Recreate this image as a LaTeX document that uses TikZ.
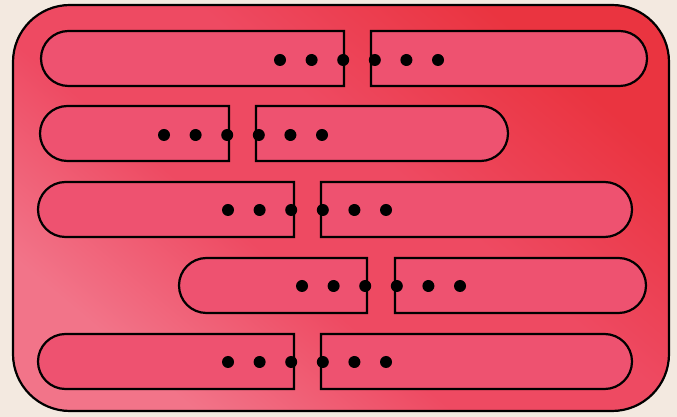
\documentclass[tikz,border=0pt]{standalone}
\definecolor{bgbeige}{HTML}{F3E9E0}
\definecolor{outerdark}{HTML}{EA3440}
\definecolor{outermid}{HTML}{EE4A62}
\definecolor{outerlight}{HTML}{F27489}
\definecolor{pillfill}{HTML}{EE5270}
\pgfdeclarehorizontalshading{panelshade}{100bp}{color(0bp)=(outerlight); color(26bp)=(outerlight); color(42bp)=(outermid); color(56bp)=(outermid); color(74bp)=(outerdark); color(100bp)=(outerdark)}
\begin{document}
\begin{tikzpicture}[x=1pt,y=1pt,line width=2.2pt,
  piece/.style={draw=black,fill=pillfill,line join=miter},
  hole/.style={fill=black}]
\useasboundingbox[fill=bgbeige] (0,0) rectangle (677,417);
% outer rounded panel (y up: Y = 417 - py)
\shade[shading=panelshade,shading angle=50,draw=none,rounded corners=57pt]
  (13,6) rectangle (669,412);
\draw[rounded corners=57pt,line width=2.2pt] (13,6) rectangle (669,412);
% pieces
\newcommand{\lpill}[3]{% x1, x2, center Y
  \draw[piece] (#2,#3+27.5) -- (#1+27.5,#3+27.5)
    arc[start angle=90,end angle=270,radius=27.5] -- (#2,#3-27.5) -- cycle;}
\newcommand{\rpill}[3]{% x1, x2, center Y
  \draw[piece] (#1,#3+27.5) -- (#2-27.5,#3+27.5)
    arc[start angle=90,end angle=-90,radius=27.5] -- (#1,#3-27.5) -- cycle;}
\newcommand{\holes}[2]{% first x, Y
  \foreach \k in {0,...,5} {\fill[hole] (#1+\k*31.6,#2) circle[radius=6];}}
% row 1
\lpill{41}{344}{358.5}\rpill{371}{647}{358.5}\holes{280}{357}
% row 2
\lpill{40}{229}{283.5}\rpill{256}{508}{283.5}\holes{164}{282}
% row 3
\lpill{38}{294}{207.5}\rpill{321}{632}{207.5}\holes{228}{207}
% row 4
\lpill{179}{367}{131.5}\rpill{395}{646}{131.5}\holes{302}{131}
% row 5
\lpill{38}{294}{55.5}\rpill{321}{632}{55.5}\holes{228}{55}
\end{tikzpicture}
\end{document}
